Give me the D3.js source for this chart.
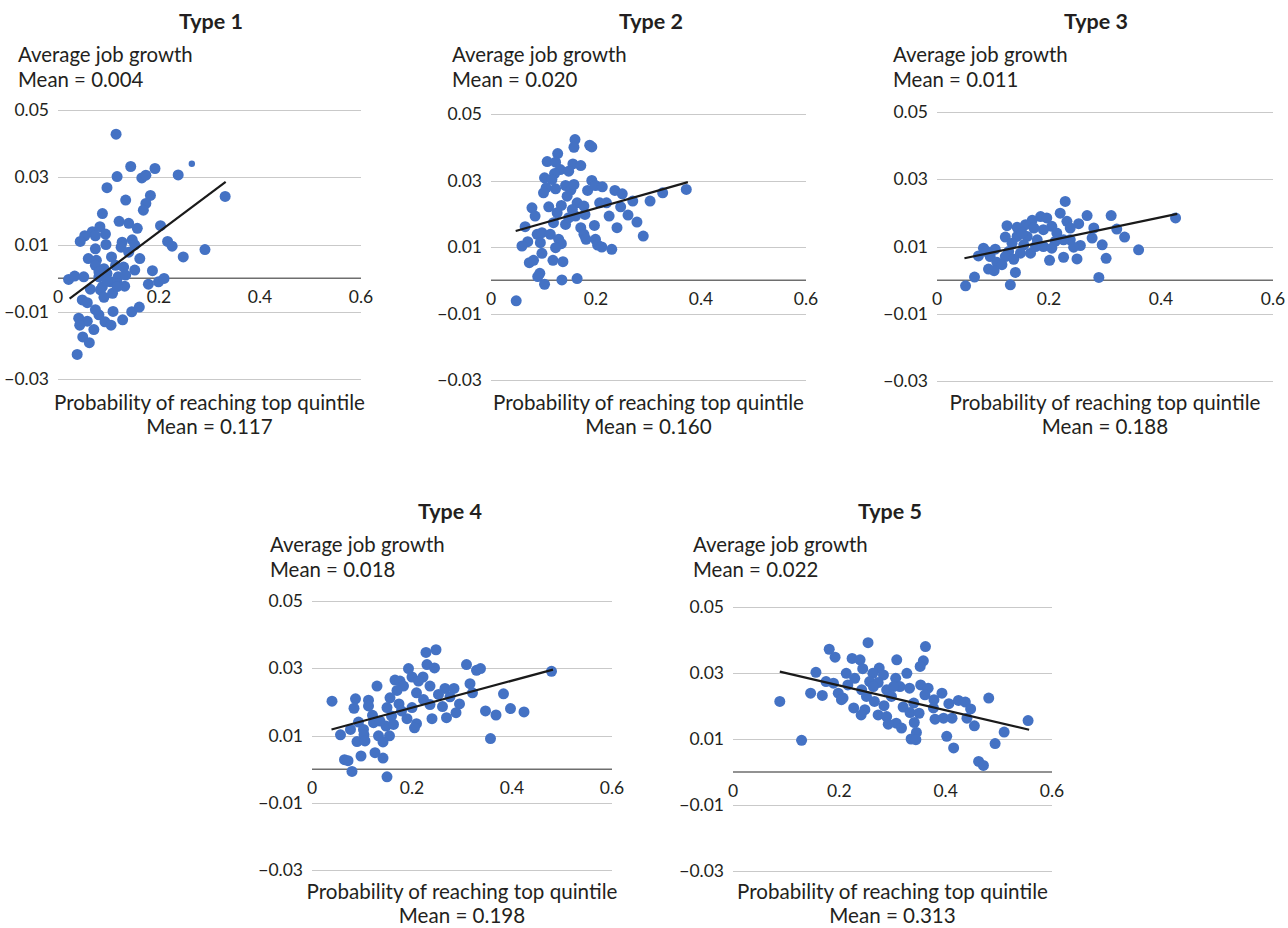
<!DOCTYPE html>
<html>
<head>
<meta charset="utf-8">
<script src="https://cdn.jsdelivr.net/npm/d3@7"></script>
<style>
  body { margin: 0; background: #fff; }
  svg text { font-family: Lato, "Open Sans", sans-serif; fill: #231f20; }
</style>
</head>
<body>
<div id="chart"></div>
<script>
// values: [probability of reaching top quintile, average job growth]
var type1Points = [
  [0.115,0.0428],[0.144,0.0332],[0.192,0.0326],[0.238,0.0307],[0.117,0.0302],[0.166,0.0298],
  [0.174,0.0306],[0.097,0.0269],[0.183,0.0246],[0.174,0.0222],[0.169,0.0202],[0.134,0.0232],
  [0.331,0.0243],[0.088,0.0192],[0.121,0.0169],[0.140,0.0163],[0.157,0.0148],[0.203,0.0156],
  [0.083,0.0153],[0.068,0.0138],[0.094,0.0131],[0.053,0.0126],[0.074,0.0126],[0.044,0.0109],
  [0.095,0.0100],[0.127,0.0107],[0.125,0.0092],[0.147,0.0114],[0.152,0.0099],[0.217,0.0109],
  [0.226,0.0095],[0.140,0.0077],[0.074,0.0087],[0.060,0.0058],[0.076,0.0053],[0.106,0.0063],
  [0.162,0.0058],[0.248,0.0063],[0.291,0.0085],[0.074,0.0038],[0.091,0.0028],[0.114,0.0038],
  [0.130,0.0033],[0.152,0.0024],[0.187,0.0022],[0.021,-0.0004],[0.033,0.0006],[0.051,0.0004],
  [0.081,0.0004],[0.097,0.0014],[0.104,-0.0011],[0.119,0.0004],[0.134,0.0009],[0.064,-0.0033],
  [0.084,-0.0035],[0.091,-0.0057],[0.108,-0.0045],[0.132,-0.0024],[0.117,-0.0016],[0.179,-0.0018],
  [0.199,-0.0011],[0.210,-0.0001],[0.048,-0.0065],[0.058,-0.0073],[0.041,-0.0119],[0.058,-0.0128],
  [0.043,-0.0140],[0.071,-0.0153],[0.049,-0.0175],[0.062,-0.0192],[0.038,-0.0227],[0.081,-0.0109],
  [0.093,-0.0130],[0.105,-0.0140],[0.109,-0.0099],[0.128,-0.0124],[0.146,-0.0100],[0.161,-0.0086],
  [0.074,-0.0094],[0.117,-0.0025],[0.088,-0.0025],[0.097,-0.0006],[0.081,0.0019]
];
var type1SmallPoints = [[0.265,0.0340]];

var type2Points = [
  [0.160,0.0423],[0.158,0.0400],[0.188,0.0406],[0.192,0.0401],[0.127,0.0381],[0.107,0.0357],
  [0.123,0.0355],[0.156,0.0350],[0.171,0.0345],[0.132,0.0333],[0.148,0.0328],[0.121,0.0321],
  [0.102,0.0308],[0.116,0.0303],[0.192,0.0300],[0.105,0.0278],[0.123,0.0275],[0.142,0.0285],
  [0.152,0.0271],[0.145,0.0253],[0.184,0.0270],[0.199,0.0285],[0.212,0.0281],[0.236,0.0270],
  [0.250,0.0260],[0.327,0.0263],[0.372,0.0273],[0.270,0.0238],[0.303,0.0238],[0.078,0.0218],
  [0.110,0.0221],[0.134,0.0225],[0.164,0.0233],[0.177,0.0223],[0.207,0.0233],[0.220,0.0233],
  [0.247,0.0221],[0.084,0.0193],[0.119,0.0173],[0.142,0.0168],[0.161,0.0193],[0.179,0.0198],
  [0.225,0.0193],[0.261,0.0196],[0.278,0.0175],[0.065,0.0161],[0.171,0.0158],[0.197,0.0165],
  [0.240,0.0158],[0.088,0.0138],[0.097,0.0143],[0.113,0.0138],[0.177,0.0138],[0.181,0.0123],
  [0.290,0.0133],[0.070,0.0116],[0.094,0.0113],[0.129,0.0123],[0.134,0.0110],[0.123,0.0098],
  [0.199,0.0123],[0.203,0.0106],[0.211,0.0100],[0.230,0.0093],[0.059,0.0103],[0.097,0.0081],
  [0.073,0.0053],[0.081,0.0060],[0.118,0.0060],[0.137,0.0056],[0.093,0.0021],[0.089,0.0011],
  [0.102,-0.0012],[0.135,0.0001],[0.164,0.0005],[0.048,-0.0062],[0.158,0.0288],[0.100,0.0263],
  [0.155,0.0213],[0.148,0.0188],[0.126,0.0203]
];

var type3Points = [
  [0.229,0.0234],[0.220,0.0199],[0.268,0.0192],[0.311,0.0192],[0.426,0.0185],[0.185,0.0189],
  [0.196,0.0185],[0.170,0.0178],[0.158,0.0165],[0.125,0.0162],[0.143,0.0157],[0.232,0.0175],
  [0.253,0.0168],[0.205,0.0160],[0.238,0.0155],[0.280,0.0155],[0.190,0.0150],[0.321,0.0152],
  [0.122,0.0128],[0.143,0.0130],[0.161,0.0130],[0.335,0.0128],[0.277,0.0125],[0.179,0.0120],
  [0.211,0.0115],[0.238,0.0120],[0.134,0.0110],[0.155,0.0105],[0.295,0.0105],[0.256,0.0103],
  [0.083,0.0095],[0.104,0.0092],[0.190,0.0100],[0.205,0.0095],[0.244,0.0098],[0.360,0.0090],
  [0.128,0.0085],[0.149,0.0080],[0.167,0.0080],[0.074,0.0072],[0.095,0.0070],[0.122,0.0070],
  [0.137,0.0062],[0.226,0.0068],[0.250,0.0063],[0.302,0.0065],[0.201,0.0059],[0.107,0.0053],
  [0.116,0.0046],[0.092,0.0033],[0.102,0.0028],[0.140,0.0023],[0.067,0.0009],[0.051,-0.0017],
  [0.131,-0.0014],[0.289,0.0008],[0.176,0.0100],[0.214,0.0140],[0.226,0.0120],[0.152,0.0140],
  [0.173,0.0155],[0.089,0.0085]
];

var type4Points = [
  [0.248,0.0355],[0.228,0.0347],[0.230,0.0311],[0.245,0.0301],[0.309,0.0311],[0.329,0.0294],
  [0.337,0.0299],[0.479,0.0291],[0.193,0.0299],[0.200,0.0274],[0.222,0.0274],[0.166,0.0265],
  [0.176,0.0262],[0.213,0.0262],[0.183,0.0247],[0.236,0.0247],[0.130,0.0247],[0.316,0.0254],
  [0.266,0.0240],[0.284,0.0240],[0.321,0.0227],[0.383,0.0224],[0.170,0.0234],[0.209,0.0227],
  [0.253,0.0222],[0.276,0.0215],[0.040,0.0202],[0.087,0.0209],[0.113,0.0205],[0.156,0.0212],
  [0.174,0.0194],[0.295,0.0194],[0.084,0.0181],[0.113,0.0188],[0.150,0.0183],[0.200,0.0183],
  [0.261,0.0186],[0.347,0.0173],[0.397,0.0180],[0.424,0.0170],[0.368,0.0161],[0.288,0.0168],
  [0.121,0.0160],[0.159,0.0158],[0.190,0.0150],[0.240,0.0150],[0.269,0.0153],[0.093,0.0140],
  [0.123,0.0138],[0.209,0.0135],[0.148,0.0128],[0.163,0.0133],[0.205,0.0123],[0.103,0.0118],
  [0.077,0.0118],[0.057,0.0102],[0.104,0.0102],[0.133,0.0099],[0.155,0.0099],[0.357,0.0091],
  [0.090,0.0082],[0.106,0.0084],[0.142,0.0081],[0.126,0.0049],[0.098,0.0039],[0.142,0.0033],
  [0.065,0.0028],[0.072,0.0025],[0.080,-0.0007],[0.150,-0.0023],[0.136,0.0143],[0.179,0.0173],
  [0.223,0.0207],[0.236,0.0192]
];

var type5Points = [
  [0.254,0.0392],[0.362,0.0380],[0.181,0.0372],[0.192,0.0348],[0.224,0.0344],[0.239,0.0340],
  [0.308,0.0340],[0.358,0.0337],[0.352,0.0320],[0.244,0.0313],[0.275,0.0315],[0.156,0.0302],
  [0.213,0.0299],[0.263,0.0299],[0.327,0.0299],[0.283,0.0294],[0.229,0.0284],[0.306,0.0284],
  [0.257,0.0274],[0.273,0.0271],[0.175,0.0274],[0.189,0.0269],[0.216,0.0264],[0.353,0.0264],
  [0.314,0.0259],[0.332,0.0254],[0.367,0.0254],[0.242,0.0249],[0.289,0.0249],[0.146,0.0239],
  [0.168,0.0232],[0.198,0.0239],[0.361,0.0234],[0.393,0.0239],[0.251,0.0229],[0.298,0.0229],
  [0.207,0.0224],[0.088,0.0214],[0.266,0.0214],[0.378,0.0219],[0.424,0.0217],[0.437,0.0212],
  [0.481,0.0224],[0.340,0.0209],[0.406,0.0207],[0.204,0.0219],[0.284,0.0201],[0.320,0.0197],
  [0.227,0.0194],[0.248,0.0189],[0.377,0.0194],[0.447,0.0191],[0.241,0.0173],[0.273,0.0173],
  [0.333,0.0180],[0.350,0.0178],[0.380,0.0160],[0.396,0.0163],[0.412,0.0163],[0.440,0.0163],
  [0.289,0.0168],[0.307,0.0148],[0.292,0.0145],[0.341,0.0150],[0.317,0.0133],[0.555,0.0156],
  [0.454,0.0140],[0.510,0.0121],[0.345,0.0120],[0.129,0.0096],[0.335,0.0100],[0.344,0.0098],
  [0.402,0.0108],[0.493,0.0086],[0.415,0.0073],[0.462,0.0032],[0.471,0.0020],[0.302,0.0259],
  [0.264,0.0259]
];

// fitted lines: [[x0, y0], [x1, y1]]
var type1Fit = [[0.023,-0.0061],[0.332,0.0286]];
var type2Fit = [[0.047,0.0148],[0.375,0.0295]];
var type3Fit = [[0.049,0.0065],[0.429,0.0197]];
var type4Fit = [[0.039,0.0118],[0.482,0.0296]];
var type5Fit = [[0.088,0.0304],[0.557,0.0128]];

var typeNames = ["Type 1","Type 2","Type 3","Type 4","Type 5"];
var growthMeans = ["0.004","0.020","0.011","0.018","0.022"];
var probMeans = ["0.117","0.160","0.188","0.198","0.313"];
var yTicks = [0.05, 0.03, 0.01, -0.01, -0.03];
var xTicks = [0, 0.2, 0.4, 0.6];

var pointsByType = [type1Points, type2Points, type3Points, type4Points, type5Points];
var fitByType = [type1Fit, type2Fit, type3Fit, type4Fit, type5Fit];

// panel placement in page pixels
var panels = [
  {left: 58,  right: 361,  top: 110, bottom: 379, titleX: 211, titleY: 29,  labelX: 18,  capY: 410},
  {left: 491, right: 806,  top: 114, bottom: 380, titleX: 651, titleY: 29,  labelX: 452, capY: 410},
  {left: 937, right: 1273, top: 112, bottom: 381, titleX: 1096, titleY: 29, labelX: 893, capY: 410},
  {left: 312, right: 612,  top: 601, bottom: 870, titleX: 450, titleY: 519, labelX: 270, capY: 899},
  {left: 733, right: 1052, top: 607, bottom: 871, titleX: 890, titleY: 519, labelX: 693, capY: 899}
];

var dotColor = "#4472c4";

var svg = d3.select("#chart").append("svg")
  .attr("width", 1288)
  .attr("height", 928);

var tickFmt = d3.format("");

panels.forEach(function(p, i) {
  var x = d3.scaleLinear().domain([0, 0.6]).range([p.left, p.right]);
  var y = d3.scaleLinear().domain([-0.03, 0.05]).range([p.bottom, p.top]);
  var g = svg.append("g");

  // title and y caption
  g.append("text")
    .attr("x", p.titleX).attr("y", p.titleY)
    .attr("text-anchor", "middle")
    .style("font-size", "21.5px").style("font-weight", "bold")
    .text(typeNames[i]);
  g.append("text")
    .attr("x", p.labelX).attr("y", p.titleY + 33)
    .style("font-size", "20.4px")
    .text("Average job growth");
  g.append("text")
    .attr("x", p.labelX).attr("y", p.titleY + 58)
    .style("font-size", "20.4px")
    .text("Mean = " + growthMeans[i]);

  // gridlines
  g.selectAll(".grid")
    .data(yTicks)
    .enter().append("line")
      .attr("x1", p.left).attr("x2", p.right)
      .attr("y1", function(d) { return Math.round(y(d)) + 0.5; })
      .attr("y2", function(d) { return Math.round(y(d)) + 0.5; })
      .attr("stroke", "#c9c9c9")
      .attr("stroke-width", 1);

  g.selectAll(".ylab")
    .data(yTicks)
    .enter().append("text")
      .attr("x", p.left - 9)
      .attr("y", function(d) { return y(d) + 6; })
      .attr("text-anchor", "end")
      .style("font-size", "17.5px")
      .text(function(d) { return d3.format(".2f")(d); });

  // zero axis
  g.append("line")
    .attr("x1", p.left).attr("x2", p.right)
    .attr("y1", y(0)).attr("y2", y(0))
    .attr("stroke", "#6e6e6e")
    .attr("stroke-width", 1.5);

  g.selectAll(".xlab")
    .data(xTicks)
    .enter().append("text")
      .attr("x", function(d) { return x(d); })
      .attr("y", y(0) + 25)
      .attr("text-anchor", "middle")
      .style("font-size", "17.5px")
      .text(function(d) { return tickFmt(d); });

  // points
  g.selectAll(".dot")
    .data(pointsByType[i])
    .enter().append("circle")
      .attr("cx", function(d) { return x(d[0]); })
      .attr("cy", function(d) { return y(d[1]); })
      .attr("r", 5.5)
      .attr("fill", dotColor);

  if (i === 0) {
    g.selectAll(".small")
      .data(type1SmallPoints)
      .enter().append("circle")
        .attr("cx", function(d) { return x(d[0]); })
        .attr("cy", function(d) { return y(d[1]); })
        .attr("r", 3.2)
        .attr("fill", dotColor);
  }

  // fitted line
  g.append("path")
    .datum(fitByType[i])
    .attr("d", d3.line().x(function(d) { return x(d[0]); }).y(function(d) { return y(d[1]); }))
    .attr("stroke", "#1a1a1a")
    .attr("stroke-width", 2.2)
    .attr("fill", "none");

  // x caption
  var cx = (p.left + p.right) / 2;
  g.append("text")
    .attr("x", cx).attr("y", p.capY)
    .attr("text-anchor", "middle")
    .style("font-size", "20.6px")
    .text("Probability of reaching top quintile");
  g.append("text")
    .attr("x", cx).attr("y", p.capY + 24)
    .attr("text-anchor", "middle")
    .style("font-size", "20.6px")
    .text("Mean = " + probMeans[i]);
});
</script>
</body>
</html>
